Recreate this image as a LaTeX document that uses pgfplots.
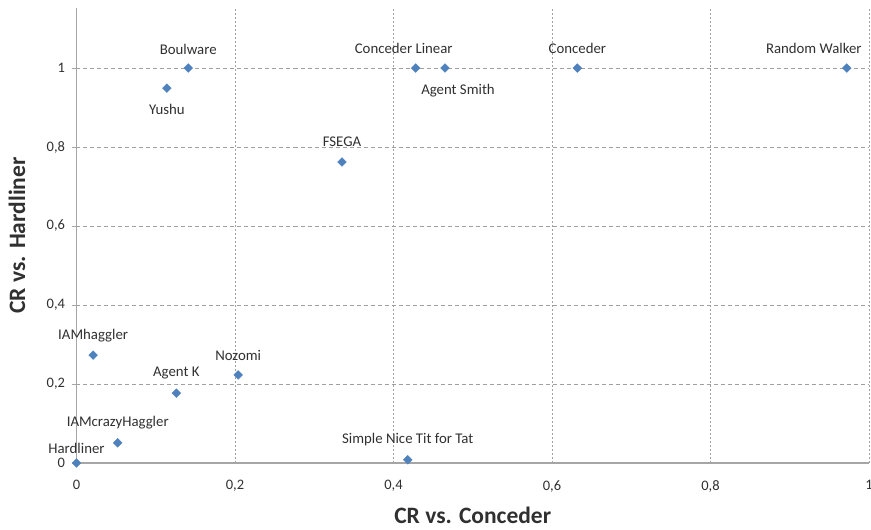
\documentclass[border=0pt]{standalone}
\usepackage{pgfplots}
\usepackage{pgfplotstable}
\pgfplotsset{compat=1.18}
\usepackage{fontspec}
\setmainfont{Carlito}
\definecolor{mblue}{HTML}{4F81BD}
\definecolor{gridgray}{HTML}{A0A0A0}
\definecolor{axgray}{HTML}{A6A6A6}
\definecolor{txt}{HTML}{303030}
\pgfplotstableread[col sep=comma]{
x,y,dx,dy,label
0,0,0,15,Hardliner
0.052,0.051,0,20,IAMcrazyHaggler
0.126,0.177,0,20,Agent K
0.204,0.223,0,19,Nozomi
0.021,0.273,0,20,IAMhaggler
0.418,0.008,0,20,Simple Nice Tit for Tat
0.335,0.762,0,20,FSEGA
0.114,0.949,0,-21,Yushu
0.141,1,0,19,Boulware
0.428,1,-12,20,Conceder Linear
0.465,1,13,-23,Agent Smith
0.632,1,0,20,Conceder
0.972,1,-33,20,Random Walker
}\data
\begin{document}
\begin{tikzpicture}
\useasboundingbox (-76.5pt,-67pt) rectangle (794.5pt,463pt);
\begin{axis}[
  at={(0pt,0pt)}, anchor=origin,
  scale only axis,
  width=792.5pt, height=455pt,
  xmin=0, xmax=1, ymin=0, ymax=1.152,
  axis x line=bottom, axis y line=left,
  axis line style={-, draw=axgray, line width=1.2pt},
  xtick={0,0.2,0.4,0.6,0.8,1},
  ytick={0,0.2,0.4,0.6,0.8,1},
  grid=major,
  x grid style={draw=gridgray, line width=0.7pt, dash pattern=on 2pt off 2pt},
  y grid style={draw=gridgray, line width=0.7pt, dash pattern=on 4pt off 3pt},
  xtick style={draw=none},
  ytick style={draw=axgray, line width=0.8pt},
  tick align=outside,
  major tick length=5pt,
  /pgf/number format/assume math mode=true,
  /pgf/number format/use comma,
  /pgf/number format/fixed,
  /pgf/number format/precision=1,
  tick label style={font=\fontsize{14.5}{16}\selectfont, text=txt},
  xticklabel style={yshift=-9pt},
  yticklabel style={xshift=-3pt},
  xlabel={CR vs. Conceder},
  ylabel={CR vs. Hardliner},
  xlabel style={at={([yshift=-52pt]axis description cs:0.5,0)}, anchor=center, inner sep=0pt, font=\fontsize{23.5}{26}\selectfont\bfseries, text=txt},
  ylabel style={at={([xshift=-59.5pt]axis description cs:0,0.5)}, anchor=center, inner sep=0pt, rotate=0, font=\fontsize{23.5}{26}\selectfont\bfseries, text=txt},
  clip=false,
]
\addplot[only marks, mark=square*, mark size=3.1pt, mark options={rotate=45, fill=mblue, draw=mblue},
  point meta=explicit symbolic,
  visualization depends on={\thisrow{dx} \as \dx},
  visualization depends on={\thisrow{dy} \as \dy},
  nodes near coords,
  nodes near coords style={anchor=center, xshift=\dx pt, yshift=\dy pt, font=\fontsize{14.8}{17}\selectfont, text=txt, inner sep=0pt},
] table[x=x, y=y, meta=label] {\data};
\end{axis}
\end{tikzpicture}
\end{document}
